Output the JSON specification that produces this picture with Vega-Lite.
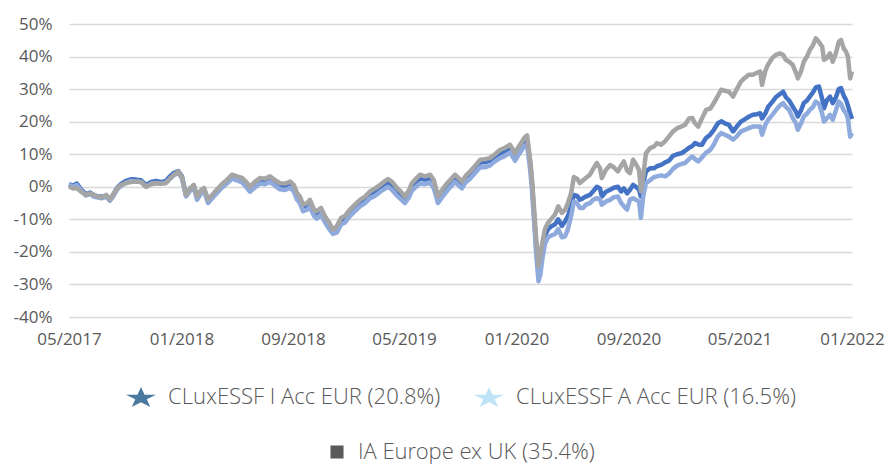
{
  "$schema": "https://vega.github.io/schema/vega-lite/v6.json",
  "width": 783,
  "height": 293,
  "autosize": "none",
  "padding": {"left": 69, "top": 24, "right": 34, "bottom": 149},
  "background": "white",
  "data": {"values": [
    {"d":"2017-05-01","G":0,"I":0.8,"A":0.6},
    {"d":"2017-05-10","G":-0.5,"I":0.3,"A":0},
    {"d":"2017-05-18","G":-0.4,"I":1.0,"A":0.5},
    {"d":"2017-05-27","G":-1.5,"I":-0.8,"A":-1.2},
    {"d":"2017-06-07","G":-2.5,"I":-2.3,"A":-2.7},
    {"d":"2017-06-16","G":-2.0,"I":-1.8,"A":-2.2},
    {"d":"2017-06-24","G":-2.5,"I":-2.5,"A":-3.0},
    {"d":"2017-07-03","G":-3.0,"I":-3.0,"A":-3.3},
    {"d":"2017-07-12","G":-3.2,"I":-3.0,"A":-3.5},
    {"d":"2017-07-21","G":-2.5,"I":-2.8,"A":-3.0},
    {"d":"2017-07-29","G":-3.8,"I":-4.0,"A":-4.3},
    {"d":"2017-08-05","G":-2.5,"I":-2.5,"A":-3.0},
    {"d":"2017-08-14","G":-0.5,"I":-0.3,"A":-0.8},
    {"d":"2017-08-22","G":0.5,"I":0.8,"A":0.3},
    {"d":"2017-09-02","G":1.1,"I":1.8,"A":1.2},
    {"d":"2017-09-13","G":1.5,"I":2.3,"A":1.8},
    {"d":"2017-09-24","G":1.6,"I":2.2,"A":1.6},
    {"d":"2017-10-05","G":1.5,"I":2.0,"A":1.5},
    {"d":"2017-10-16","G":0.0,"I":0.5,"A":0.0},
    {"d":"2017-10-27","G":0.8,"I":1.5,"A":1.0},
    {"d":"2017-11-07","G":1.1,"I":1.8,"A":1.2},
    {"d":"2017-11-17","G":1.0,"I":1.4,"A":0.9},
    {"d":"2017-11-28","G":1.1,"I":1.8,"A":1.3},
    {"d":"2017-12-07","G":2.5,"I":3.2,"A":2.5},
    {"d":"2017-12-16","G":3.7,"I":4.3,"A":3.6},
    {"d":"2017-12-25","G":4.7,"I":4.8,"A":4.3},
    {"d":"2018-01-02","G":3.0,"I":3.2,"A":2.6},
    {"d":"2018-01-11","G":-2.5,"I":-2.5,"A":-3.0},
    {"d":"2018-01-20","G":-0.5,"I":-0.5,"A":-1.2},
    {"d":"2018-01-28","G":0.6,"I":0.3,"A":-0.3},
    {"d":"2018-02-04","G":-3.0,"I":-3.2,"A":-4.0},
    {"d":"2018-02-13","G":-1.0,"I":-1.3,"A":-2.0},
    {"d":"2018-02-19","G":-0.4,"I":-0.5,"A":-1.2},
    {"d":"2018-02-28","G":-4.0,"I":-4.2,"A":-5.0},
    {"d":"2018-03-09","G":-2.5,"I":-2.8,"A":-3.5},
    {"d":"2018-03-19","G":-0.9,"I":-1.2,"A":-2.0},
    {"d":"2018-03-30","G":0.8,"I":0.5,"A":-0.3},
    {"d":"2018-04-10","G":2.1,"I":1.8,"A":1.0},
    {"d":"2018-04-21","G":3.7,"I":3.5,"A":2.5},
    {"d":"2018-05-02","G":3.2,"I":3.0,"A":2.0},
    {"d":"2018-05-13","G":2.7,"I":2.3,"A":1.3},
    {"d":"2018-05-22","G":1.5,"I":1.0,"A":0.0},
    {"d":"2018-05-30","G":0.0,"I":-0.5,"A":-1.5},
    {"d":"2018-06-10","G":1.5,"I":1.0,"A":-0.2},
    {"d":"2018-06-21","G":2.7,"I":2.2,"A":1.0},
    {"d":"2018-07-02","G":2.5,"I":2.0,"A":0.8},
    {"d":"2018-07-13","G":3.2,"I":2.6,"A":1.5},
    {"d":"2018-07-24","G":2.0,"I":1.5,"A":0.3},
    {"d":"2018-08-04","G":1.1,"I":0.5,"A":-0.8},
    {"d":"2018-08-15","G":1.0,"I":0.3,"A":-1.0},
    {"d":"2018-08-26","G":1.6,"I":1.0,"A":-0.3},
    {"d":"2018-09-03","G":0.5,"I":-0.2,"A":-1.5},
    {"d":"2018-09-10","G":-2.0,"I":-2.8,"A":-4.0},
    {"d":"2018-09-16","G":-3.0,"I":-3.8,"A":-5.0},
    {"d":"2018-09-23","G":-5.5,"I":-6.3,"A":-7.5},
    {"d":"2018-10-02","G":-5.0,"I":-6.0,"A":-7.0},
    {"d":"2018-10-08","G":-4.0,"I":-5.2,"A":-6.2},
    {"d":"2018-10-17","G":-7.0,"I":-7.8,"A":-9.0},
    {"d":"2018-10-23","G":-7.5,"I":-8.5,"A":-9.8},
    {"d":"2018-11-01","G":-6.5,"I":-7.3,"A":-8.5},
    {"d":"2018-11-10","G":-9.1,"I":-9.8,"A":-11.0},
    {"d":"2018-11-19","G":-11.0,"I":-11.8,"A":-13.0},
    {"d":"2018-11-27","G":-13.2,"I":-13.8,"A":-14.5},
    {"d":"2018-12-06","G":-12.0,"I":-13.0,"A":-14.0},
    {"d":"2018-12-15","G":-9.5,"I":-10.5,"A":-11.5},
    {"d":"2018-12-23","G":-9.0,"I":-10.0,"A":-11.0},
    {"d":"2019-01-03","G":-7.0,"I":-8.0,"A":-9.0},
    {"d":"2019-01-14","G":-5.5,"I":-6.5,"A":-7.5},
    {"d":"2019-01-25","G":-4.0,"I":-5.0,"A":-6.0},
    {"d":"2019-02-05","G":-3.0,"I":-4.0,"A":-5.0},
    {"d":"2019-02-16","G":-1.4,"I":-2.3,"A":-3.5},
    {"d":"2019-02-27","G":-0.5,"I":-1.5,"A":-2.8},
    {"d":"2019-03-10","G":0.6,"I":-0.3,"A":-1.5},
    {"d":"2019-03-18","G":1.5,"I":0.5,"A":-0.8},
    {"d":"2019-03-27","G":2.4,"I":1.2,"A":0.0},
    {"d":"2019-04-05","G":1.5,"I":0.5,"A":-1.0},
    {"d":"2019-04-16","G":-0.4,"I":-1.3,"A":-2.8},
    {"d":"2019-04-24","G":-1.5,"I":-2.3,"A":-3.8},
    {"d":"2019-05-03","G":-3.0,"I":-3.8,"A":-5.0},
    {"d":"2019-05-12","G":-1.0,"I":-2.0,"A":-3.2},
    {"d":"2019-05-18","G":1.1,"I":0.0,"A":-1.2},
    {"d":"2019-05-27","G":2.5,"I":1.5,"A":0.0},
    {"d":"2019-06-05","G":3.7,"I":2.5,"A":1.0},
    {"d":"2019-06-16","G":3.2,"I":2.2,"A":0.8},
    {"d":"2019-06-27","G":3.7,"I":2.8,"A":1.2},
    {"d":"2019-07-05","G":2.0,"I":1.0,"A":-0.5},
    {"d":"2019-07-14","G":-3.0,"I":-3.5,"A":-5.0},
    {"d":"2019-07-23","G":-1.0,"I":-1.8,"A":-3.2},
    {"d":"2019-07-31","G":0.6,"I":-0.2,"A":-1.8},
    {"d":"2019-08-09","G":2.0,"I":1.2,"A":-0.2},
    {"d":"2019-08-20","G":3.7,"I":3.0,"A":1.5},
    {"d":"2019-08-29","G":2.5,"I":1.8,"A":0.3},
    {"d":"2019-09-04","G":1.6,"I":1.0,"A":-0.5},
    {"d":"2019-09-13","G":3.5,"I":2.8,"A":1.5},
    {"d":"2019-09-22","G":4.7,"I":4.0,"A":2.5},
    {"d":"2019-10-03","G":6.5,"I":5.8,"A":4.3},
    {"d":"2019-10-14","G":8.3,"I":7.5,"A":6.0},
    {"d":"2019-10-24","G":8.5,"I":7.5,"A":6.0},
    {"d":"2019-11-04","G":8.8,"I":8.0,"A":6.5},
    {"d":"2019-11-15","G":10.0,"I":9.3,"A":7.8},
    {"d":"2019-11-26","G":11.3,"I":10.3,"A":8.8},
    {"d":"2019-12-07","G":12.0,"I":11.0,"A":9.5},
    {"d":"2019-12-18","G":12.9,"I":12.0,"A":10.5},
    {"d":"2019-12-29","G":10.3,"I":9.5,"A":8.0},
    {"d":"2020-01-04","G":12.0,"I":11.0,"A":9.5},
    {"d":"2020-01-11","G":13.4,"I":12.5,"A":11.0},
    {"d":"2020-01-18","G":15.0,"I":14.0,"A":12.5},
    {"d":"2020-01-24","G":15.8,"I":14.5,"A":13.0},
    {"d":"2020-01-31","G":8.0,"I":7.0,"A":5.0},
    {"d":"2020-02-04","G":2.1,"I":0.5,"A":-1.5},
    {"d":"2020-02-09","G":-8.0,"I":-10.0,"A":-12.0},
    {"d":"2020-02-13","G":-16.0,"I":-18.5,"A":-21.0},
    {"d":"2020-02-18","G":-24.4,"I":-26.5,"A":-29.0},
    {"d":"2020-02-22","G":-21.0,"I":-23.0,"A":-27.0},
    {"d":"2020-02-26","G":-17.3,"I":-20.0,"A":-22.5},
    {"d":"2020-03-03","G":-13.0,"I":-15.0,"A":-17.5},
    {"d":"2020-03-10","G":-11.0,"I":-13.0,"A":-15.5},
    {"d":"2020-03-16","G":-10.0,"I":-12.2,"A":-15.0},
    {"d":"2020-03-25","G":-8.5,"I":-11.5,"A":-14.5},
    {"d":"2020-04-01","G":-6.0,"I":-10.0,"A":-13.0},
    {"d":"2020-04-09","G":-8.0,"I":-12.0,"A":-15.5},
    {"d":"2020-04-16","G":-7.0,"I":-10.6,"A":-15.2},
    {"d":"2020-04-22","G":-5.0,"I":-9.0,"A":-13.0},
    {"d":"2020-04-29","G":-2.0,"I":-6.0,"A":-9.0},
    {"d":"2020-05-05","G":3.0,"I":-2.5,"A":-4.5},
    {"d":"2020-05-12","G":2.5,"I":-2.8,"A":-5.0},
    {"d":"2020-05-18","G":1.1,"I":-4.0,"A":-6.5},
    {"d":"2020-05-25","G":2.0,"I":-3.5,"A":-6.5},
    {"d":"2020-05-31","G":2.7,"I":-3.0,"A":-5.5},
    {"d":"2020-06-09","G":3.7,"I":-2.5,"A":-5.0},
    {"d":"2020-06-16","G":5.5,"I":-1.4,"A":-4.0},
    {"d":"2020-06-24","G":7.3,"I":0.0,"A":-3.5},
    {"d":"2020-07-01","G":5.7,"I":-0.5,"A":-3.8},
    {"d":"2020-07-05","G":2.7,"I":-3.0,"A":-5.5},
    {"d":"2020-07-14","G":5.2,"I":-1.5,"A":-4.5},
    {"d":"2020-07-23","G":6.7,"I":-0.9,"A":-4.0},
    {"d":"2020-07-31","G":6.0,"I":-0.3,"A":-3.2},
    {"d":"2020-08-09","G":4.7,"I":0.0,"A":-3.0},
    {"d":"2020-08-16","G":6.5,"I":-1.4,"A":-5.0},
    {"d":"2020-08-22","G":7.8,"I":-0.5,"A":-6.0},
    {"d":"2020-08-29","G":5.0,"I":-2.0,"A":-7.0},
    {"d":"2020-09-04","G":4.2,"I":-1.0,"A":-4.0},
    {"d":"2020-09-11","G":8.3,"I":0.6,"A":-3.5},
    {"d":"2020-09-17","G":7.0,"I":0.0,"A":-4.0},
    {"d":"2020-09-24","G":5.2,"I":-0.9,"A":-4.5},
    {"d":"2020-09-28","G":-1.4,"I":-3.0,"A":-9.6},
    {"d":"2020-10-03","G":3.0,"I":1.0,"A":-3.0},
    {"d":"2020-10-09","G":10.3,"I":4.7,"A":1.1},
    {"d":"2020-10-18","G":11.9,"I":5.7,"A":2.0},
    {"d":"2020-10-27","G":12.4,"I":5.7,"A":3.0},
    {"d":"2020-11-02","G":13.4,"I":6.3,"A":3.2},
    {"d":"2020-11-11","G":12.9,"I":6.7,"A":3.5},
    {"d":"2020-11-20","G":14.0,"I":7.5,"A":3.2},
    {"d":"2020-11-28","G":15.4,"I":8.0,"A":4.0},
    {"d":"2020-12-07","G":17.0,"I":9.5,"A":5.5},
    {"d":"2020-12-16","G":18.0,"I":10.0,"A":6.5},
    {"d":"2020-12-25","G":18.5,"I":10.3,"A":7.0},
    {"d":"2021-01-02","G":19.0,"I":11.0,"A":7.3},
    {"d":"2021-01-11","G":21.0,"I":12.0,"A":8.5},
    {"d":"2021-01-18","G":21.1,"I":12.5,"A":9.3},
    {"d":"2021-01-24","G":19.5,"I":13.4,"A":8.5},
    {"d":"2021-01-31","G":18.5,"I":13.0,"A":7.8},
    {"d":"2021-02-08","G":21.0,"I":12.9,"A":9.0},
    {"d":"2021-02-17","G":23.6,"I":15.0,"A":10.5},
    {"d":"2021-02-26","G":24.0,"I":16.0,"A":11.3},
    {"d":"2021-03-06","G":25.7,"I":17.5,"A":13.0},
    {"d":"2021-03-15","G":28.0,"I":19.5,"A":15.5},
    {"d":"2021-03-22","G":29.8,"I":20.1,"A":16.5},
    {"d":"2021-03-30","G":29.5,"I":19.5,"A":16.0},
    {"d":"2021-04-08","G":29.2,"I":19.0,"A":15.4},
    {"d":"2021-04-17","G":27.7,"I":17.0,"A":14.5},
    {"d":"2021-04-25","G":30.0,"I":18.5,"A":15.5},
    {"d":"2021-05-04","G":32.3,"I":20.0,"A":17.0},
    {"d":"2021-05-13","G":33.5,"I":20.8,"A":17.5},
    {"d":"2021-05-21","G":34.4,"I":21.5,"A":18.0},
    {"d":"2021-05-30","G":34.4,"I":22.1,"A":18.5},
    {"d":"2021-06-08","G":35.0,"I":22.3,"A":18.5},
    {"d":"2021-06-15","G":35.4,"I":22.6,"A":18.5},
    {"d":"2021-06-19","G":31.3,"I":21.0,"A":16.0},
    {"d":"2021-06-26","G":35.5,"I":22.5,"A":19.0},
    {"d":"2021-07-02","G":37.5,"I":24.5,"A":20.5},
    {"d":"2021-07-11","G":39.5,"I":26.0,"A":22.0},
    {"d":"2021-07-19","G":40.5,"I":27.5,"A":23.5},
    {"d":"2021-07-28","G":41.0,"I":28.5,"A":25.0},
    {"d":"2021-08-04","G":40.5,"I":29.2,"A":25.7},
    {"d":"2021-08-10","G":39.0,"I":27.5,"A":24.5},
    {"d":"2021-08-17","G":38.4,"I":26.5,"A":23.6},
    {"d":"2021-08-25","G":37.4,"I":24.6,"A":21.1},
    {"d":"2021-09-01","G":35.0,"I":23.0,"A":19.5},
    {"d":"2021-09-05","G":33.3,"I":21.6,"A":17.5},
    {"d":"2021-09-12","G":35.5,"I":23.5,"A":19.5},
    {"d":"2021-09-18","G":38.4,"I":25.7,"A":21.6},
    {"d":"2021-09-25","G":40.0,"I":26.5,"A":22.5},
    {"d":"2021-10-01","G":42.0,"I":27.7,"A":23.6},
    {"d":"2021-10-08","G":43.5,"I":29.0,"A":24.5},
    {"d":"2021-10-14","G":45.6,"I":30.5,"A":26.2},
    {"d":"2021-10-21","G":44.5,"I":30.8,"A":25.5},
    {"d":"2021-10-28","G":43.0,"I":27.0,"A":22.5},
    {"d":"2021-11-01","G":39.0,"I":24.1,"A":20.0},
    {"d":"2021-11-07","G":39.5,"I":26.5,"A":21.0},
    {"d":"2021-11-14","G":41.0,"I":27.7,"A":22.1},
    {"d":"2021-11-20","G":38.4,"I":25.7,"A":20.6},
    {"d":"2021-11-27","G":41.0,"I":27.5,"A":23.5},
    {"d":"2021-12-03","G":44.5,"I":30.0,"A":26.2},
    {"d":"2021-12-08","G":45.1,"I":30.3,"A":25.5},
    {"d":"2021-12-14","G":42.5,"I":28.0,"A":23.5},
    {"d":"2021-12-19","G":41.5,"I":26.7,"A":22.6},
    {"d":"2021-12-23","G":40.0,"I":25.0,"A":21.0},
    {"d":"2021-12-28","G":33.3,"I":22.5,"A":15.4},
    {"d":"2022-01-01","G":35.4,"I":20.8,"A":16.5}
  ]},
  "encoding": {
    "x": {
      "field": "d",
      "type": "temporal",
      "title": null,
      "scale": {"type": "utc", "domain": [{"year": 2017, "month": 5, "date": 1, "utc": true}, {"year": 2022, "month": 1, "date": 1, "utc": true}]},
      "axis": {
        "values": [
          {"year": 2017, "month": 5, "date": 1, "utc": true},
          {"year": 2018, "month": 1, "date": 1, "utc": true},
          {"year": 2018, "month": 9, "date": 1, "utc": true},
          {"year": 2019, "month": 5, "date": 1, "utc": true},
          {"year": 2020, "month": 1, "date": 1, "utc": true},
          {"year": 2020, "month": 9, "date": 1, "utc": true},
          {"year": 2021, "month": 5, "date": 1, "utc": true},
          {"year": 2022, "month": 1, "date": 1, "utc": true}
        ],
        "format": "%m/%Y",
        "grid": false,
        "labelFlush": false,
        "labelPadding": 14,
        "labelOverlap": false
      }
    }
  },
  "layer": [
    {
      "layer": [
        {
          "mark": {"type": "line", "strokeWidth": 4.5, "strokeJoin": "round"},
          "encoding": {
            "y": {
              "field": "I", "type": "quantitative", "title": null,
              "scale": {"domain": [-40, 50], "nice": false, "zero": false},
              "axis": {"values": [-40, -30, -20, -10, 0, 10, 20, 30, 40, 50], "labelExpr": "datum.value + '%'", "grid": true, "labelPadding": 17, "labelOverlap": false}
            },
            "color": {
              "datum": "CLuxESSF I Acc EUR (20.8%)",
              "type": "nominal",
              "scale": {"domain": ["CLuxESSF I Acc EUR (20.8%)", "CLuxESSF A Acc EUR (16.5%)"], "range": ["#4472C4", "#8FAADC"]},
              "legend": {
                "symbolType": "M0,-0.63L0.225,-0.15L0.951,-0.15L0.363,0.15L0.588,0.63L0,0.334L-0.588,0.63L-0.363,0.15L-0.951,-0.15L-0.225,-0.15Z",
                "symbolSize": 1000,
                "columnPadding": 32,
                "labelOffset": 11,
                "offset": 34,
                "encode": {
                  "symbols": {
                    "update": {
                      "fill": [{"test": "datum.value === 'CLuxESSF I Acc EUR (20.8%)'", "value": "#4A79A0"}, {"value": "#BFE4F7"}],
                      "stroke": {"value": "transparent"},
                      "strokeWidth": {"value": 0},
                      "opacity": {"value": 1}
                    }
                  }
                }
              }
            }
          }
        },
        {
          "mark": {"type": "line", "strokeWidth": 4.5, "strokeJoin": "round"},
          "encoding": {
            "y": {
              "field": "A", "type": "quantitative", "title": null,
              "scale": {"domain": [-40, 50], "nice": false, "zero": false},
              "axis": {"values": [-40, -30, -20, -10, 0, 10, 20, 30, 40, 50], "labelExpr": "datum.value + '%'", "grid": true, "labelPadding": 17, "labelOverlap": false}
            },
            "color": {"datum": "CLuxESSF A Acc EUR (16.5%)", "type": "nominal"}
          }
        }
      ]
    },
    {
      "mark": {"type": "line", "strokeWidth": 4.5, "strokeJoin": "round"},
      "encoding": {
        "y": {
          "field": "G", "type": "quantitative", "title": null,
          "scale": {"domain": [-40, 50], "nice": false, "zero": false},
          "axis": {"values": [-40, -30, -20, -10, 0, 10, 20, 30, 40, 50], "labelExpr": "datum.value + '%'", "grid": true, "labelPadding": 17, "labelOverlap": false}
        },
        "color": {
          "datum": "IA Europe ex UK (35.4%)",
          "type": "nominal",
          "scale": {"domain": ["IA Europe ex UK (35.4%)"], "range": ["#A5A5A5"]},
          "legend": {
            "symbolType": "square",
            "symbolSize": 170,
            "labelOffset": 10,
            "encode": {
              "symbols": {
                "update": {
                  "fill": {"value": "#595959"},
                  "stroke": {"value": "transparent"},
                  "strokeWidth": {"value": 0},
                  "opacity": {"value": 1}
                }
              }
            }
          }
        }
      }
    }
  ],
  "resolve": {"scale": {"color": "independent"}, "legend": {"color": "independent"}},
  "config": {
    "font": "Open Sans",
    "view": {"stroke": null},
    "axis": {
      "labelFont": "Open Sans",
      "labelFontSize": 17,
      "labelColor": "#595959",
      "domain": false,
      "ticks": false,
      "tickSize": 0,
      "gridColor": "#D9D9D9",
      "gridWidth": 1.3
    },
    "legend": {
      "orient": "bottom",
      "direction": "horizontal",
      "title": null,
      "labelFont": "Open Sans Light, Open Sans",
      "labelFontSize": 22,
      "labelFontWeight": 300,
      "labelColor": "#595959",
      "labelLimit": 500,
      "symbolStrokeWidth": 0,
      "layout": {"bottom": {"anchor": "middle", "direction": "vertical", "center": true, "margin": 33}}
    }
  }
}
